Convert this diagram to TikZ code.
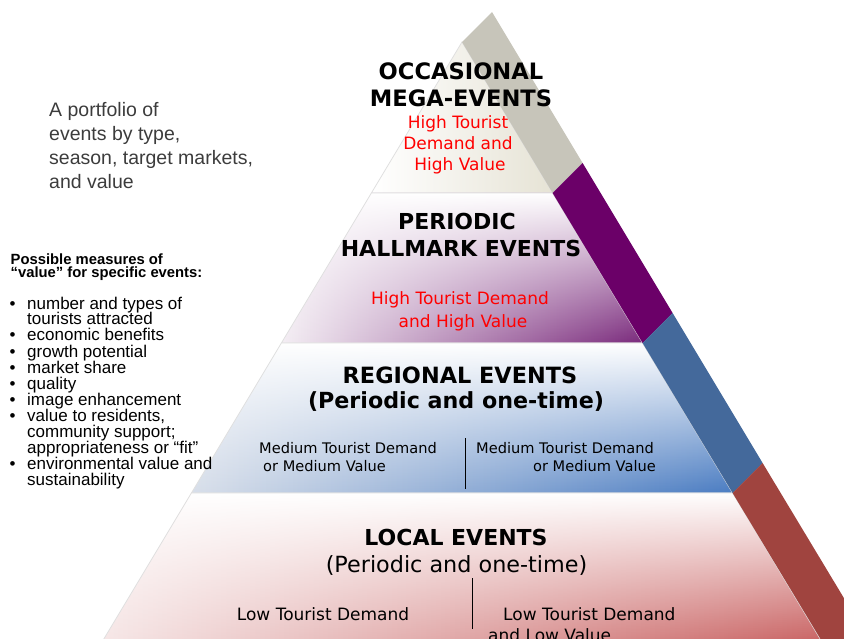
\documentclass[tikz,border=0pt]{standalone}
\usepackage{fontspec}
\setmainfont{Liberation Sans}
\newfontfamily\dv{DejaVu Sans}
\usetikzlibrary{fadings}
\definecolor{stripgray}{HTML}{C7C5BA}
\definecolor{strippurple}{HTML}{6B0068}
\definecolor{stripblue}{HTML}{44699B}
\definecolor{stripred}{HTML}{A0443F}
\definecolor{tAr}{HTML}{E6E3D5}
\definecolor{tBl}{HTML}{F4EEF4}
\definecolor{tBm}{HTML}{C8A6C8}
\definecolor{tBr}{HTML}{7A2A7C}
\definecolor{tCl}{HTML}{D8DFEA}
\definecolor{tCm}{HTML}{A3B8D8}
\definecolor{tCr}{HTML}{4A7CC2}
\definecolor{tDl}{HTML}{F6E6E6}
\definecolor{tDm}{HTML}{E2B2B2}
\definecolor{tDr}{HTML}{C24E4E}
\definecolor{leftgray}{HTML}{3C3C3C}
\tikzfading[name=whitetop, top color=transparent!0, bottom color=transparent!100]
\newcommand\myfs[2]{\fontsize{#1}{#2}\selectfont}
\def\tierA{(462,42) -- (552.6,193) -- (371.4,193) -- cycle}
\def\tierB{(371.4,193) -- (552.6,193) -- (642.6,343) -- (281.4,343) -- cycle}
\def\tierC{(281.4,343) -- (642.6,343) -- (732.6,493) -- (191.4,493) -- cycle}
\def\tierD{(191.4,493) -- (732.6,493) -- (832.8,660) -- (91.2,660) -- cycle}
\begin{document}
\begin{tikzpicture}[x=1pt,y=-1pt,
  tierline/.style={draw=black!12, line width=0.8pt},
  whitefade/.style={fill=white, path fading=whitetop},
  bigtitle/.style={font=\dv\bfseries\myfs{22}{26}, anchor=base, inner sep=0pt},
  redtxt/.style={font=\dv\myfs{17}{20}, text=red, anchor=base, inner sep=0pt},
  medtxt/.style={font=\dv\myfs{14.6}{18}, inner sep=0pt},
  lowtxt/.style={font=\dv\myfs{17}{20}, inner sep=0pt},
  porttxt/.style={font=\myfs{19.5}{24}, text=leftgray, anchor=base west, inner sep=0pt},
  meashead/.style={font=\bfseries\myfs{14.8}{14}, anchor=base west, inner sep=0pt},
  bultxt/.style={font=\myfs{17}{16}, anchor=base west, inner sep=0pt},
  sepline/.style={draw=black, line width=0.9pt}
]
\useasboundingbox (0,0) rectangle (844,639);
\clip (0,0) rectangle (844,639);
% front face tiers
\shade[left color=white, right color=tAr] \tierA;
\draw[tierline] \tierA;
\shade[left color=tBl, middle color=tBm, right color=tBr] \tierB;
\path[whitefade] \tierB;
\draw[tierline] \tierB;
\shade[left color=tCl, middle color=tCm, right color=tCr] \tierC;
\path[whitefade] \tierC;
\draw[tierline] \tierC;
\shade[left color=tDl, middle color=tDm, right color=tDr] \tierD;
\path[whitefade] \tierD;
\draw[tierline] \tierD;
% side strip
\fill[stripgray] (462,42) -- (492,12) -- (582.6,163) -- (552.6,193) -- cycle;
\fill[strippurple] (552.6,193) -- (582.6,163) -- (672.6,313) -- (642.6,343) -- cycle;
\fill[stripblue] (642.6,343) -- (672.6,313) -- (762.6,463) -- (732.6,493) -- cycle;
\fill[stripred] (732.6,493) -- (762.6,463) -- (880,658) -- (850,688) -- cycle;
% tier 1 text
\node[bigtitle, font=\dv\bfseries\myfs{22.6}{26}] (occ) at (461,80) {OCCASIONAL};
\node[bigtitle, font=\dv\bfseries\myfs{22.6}{26}] (mega) at (461,107) {MEGA-EVENTS};
\node[redtxt] (r1a) at (458,129) {High Tourist};
\node[redtxt] (r1b) at (458,150) {Demand and};
\node[redtxt] (r1c) at (460,171) {High Value};
% tier 2 text
\node[bigtitle] (per) at (457,230) {PERIODIC};
\node[bigtitle] (hall) at (461,257) {HALLMARK EVENTS};
\node[redtxt] (r2a) at (460,305) {High Tourist Demand};
\node[redtxt] (r2b) at (463,327) {and High Value};
% tier 3 text
\node[bigtitle, font=\dv\bfseries\myfs{22.4}{26}] (reg) at (460,383) {REGIONAL EVENTS};
\node[bigtitle, font=\dv\bfseries\myfs{22.2}{26}] (regp) at (456,408) {(Periodic and one-time)};
\node[medtxt, anchor=base west] (m1a) at (259,453) {Medium Tourist Demand};
\node[medtxt, anchor=base west] (m1b) at (263,471) {or Medium Value};
\node[medtxt, anchor=base west] (m2a) at (476,453) {Medium Tourist Demand};
\node[medtxt, anchor=base east] (m2b) at (656,471) {or Medium Value};
\coordinate (s3t) at (465,438);
\coordinate (s3b) at (465,489);
\draw[sepline] (s3t) -- (s3b);
% tier 4 text
\node[bigtitle] (loc) at (456,545) {LOCAL EVENTS};
\node[anchor=base, inner sep=0pt, font=\dv\myfs{22.3}{26}] (locp) at (456.5,572) {(Periodic and one-time)};
\node[lowtxt, anchor=base west] (l1) at (236.7,620) {Low Tourist Demand};
\node[lowtxt, anchor=base west] (l2a) at (503,620) {Low Tourist Demand};
\node[lowtxt, anchor=base west] (l2b) at (488,641) {and Low Value};
\coordinate (s4t) at (472.5,578);
\coordinate (s4b) at (472.5,629);
\draw[sepline] (s4t) -- (s4b);
% left texts
\node[porttxt] (p1) at (49,117) {A portfolio of};
\node[porttxt] (p2) at (49,141) {events by type,};
\node[porttxt] (p3) at (49,165) {season, target markets,};
\node[porttxt] (p4) at (49,189) {and value};
\node[meashead] (h1) at (10.5,265) {Possible measures of};
\node[meashead] (h2) at (10.5,278) {“value” for specific events:};
\foreach \i/\b/\t in {0/1/number and types of, 1/0/tourists attracted, 2/1/economic benefits,
  3/1/growth potential, 4/1/market share, 5/1/quality, 6/1/image enhancement,
  7/1/{value to residents,}, 8/0/community support;, 9/0/appropriateness or “fit”,
  10/1/environmental value and, 11/0/sustainability}{
  \node[bultxt] (bt\i) at (27,309+16*\i) {\t};
  \ifnum\b=1 \node[bultxt] (bb\i) at (9.5,309+16*\i) {•};\fi
}
\end{tikzpicture}
\end{document}
